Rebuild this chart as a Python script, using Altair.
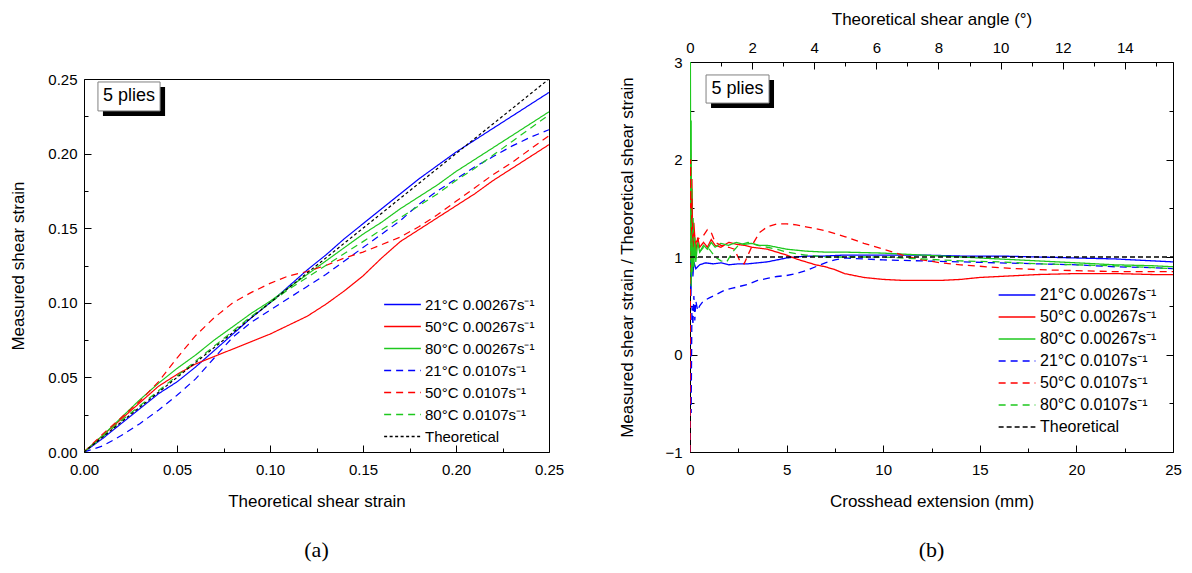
import altair as alt
import pandas as pd

SANS = "Liberation Sans"
SERIF = "Liberation Serif"

SERIES = ["21°C 0.00267s⁻¹", "50°C 0.00267s⁻¹", "80°C 0.00267s⁻¹",
          "21°C 0.0107s⁻¹", "50°C 0.0107s⁻¹", "80°C 0.0107s⁻¹", "Theoretical"]
SERIES_COLORS = ["#0000ff", "#ff0000", "#1ec81e", "#0000ff", "#ff0000", "#1ec81e", "#000000"]

# ---------------- panel (a): measured vs theoretical shear strain ----------------
strain_x = [0.00, 0.01, 0.02, 0.03, 0.04, 0.05, 0.06, 0.07, 0.08, 0.09, 0.10, 0.11, 0.12,
            0.13, 0.14, 0.15, 0.16, 0.17, 0.18, 0.19, 0.20, 0.21, 0.22, 0.23, 0.24, 0.25]
a_21_slow = [0, .009, .019, .029, .039, .047, .057, .068, .079, .090, .100, .111, .122,
             .132, .143, .153, .163, .173, .183, .192, .201, .209, .217, .225, .233, .241]
a_50_slow = [0, .011, .022, .033, .044, .052, .059, .064, .069, .074, .079, .085, .091,
             .099, .108, .118, .130, .141, .149, .157, .165, .173, .182, .190, .198, .206]
a_80_slow = [0, .011, .023, .035, .046, .056, .065, .075, .084, .093, .101, .110, .119,
             .128, .137, .146, .154, .163, .171, .179, .188, .196, .204, .212, .220, .228]
a_21_fast = [0, .004, .011, .019, .028, .038, .049, .063, .077, .087, .095, .103, .111,
             .119, .128, .137, .146, .155, .166, .175, .183, .191, .198, .205, .211, .216]
a_50_fast = [0, .012, .023, .034, .047, .063, .078, .090, .100, .107, .113, .118, .121,
             .125, .130, .134, .139, .144, .151, .159, .168, .177, .186, .194, .203, .212]
a_80_fast = [0, .010, .021, .031, .041, .051, .061, .071, .081, .091, .100, .109, .117,
             .125, .133, .141, .149, .157, .165, .173, .182, .190, .199, .208, .217, .226]
a_theory_x = [0.0, 0.25]
a_theory_y = [0.0, 0.25]
a_label_vals = [0.00, 0.05, 0.10, 0.15, 0.20, 0.25]
a_tick_vals = [0.000, 0.025, 0.050, 0.075, 0.100, 0.125, 0.150, 0.175, 0.200, 0.225, 0.250]

# ---------------- panel (b): ratio vs crosshead extension ----------------
b_21_slow_x = [0, 0.05, 0.1, 0.15, 0.2, 0.3, 0.5, 0.8, 1.2, 1.6, 2.0, 2.5, 3.0, 3.5, 4.0, 4.5,
               5.0, 5.5, 6, 7, 8, 10, 12, 14, 16, 18, 20, 22, 24, 25]
b_21_slow_y = [1.0, 0.6, 1.2, 0.8, 0.95, 0.88, 0.92, 0.94, 0.93, 0.94, 0.92, 0.93, 0.93, 0.94,
               0.95, 0.97, 0.99, 1.0, 1.01, 1.01, 1.02, 1.02, 1.02, 1.01, 1.01, 1.0, 0.99, 0.98,
               0.96, 0.95]
b_50_slow_x = [0, 0.03, 0.06, 0.1, 0.15, 0.2, 0.3, 0.4, 0.5, 0.7, 0.9, 1.1, 1.3, 1.6, 2.0, 2.4,
               2.8, 3.2, 3.6, 4.0, 4.5, 5.0, 5.5, 6.0, 6.5, 7.0, 7.5, 8.0, 9, 10, 11, 12, 13, 14,
               15, 16, 18, 20, 22, 24, 25]
b_50_slow_y = [1.0, 2.1, 1.3, 1.8, 1.0, 1.35, 1.05, 1.2, 1.1, 1.15, 1.1, 1.18, 1.12, 1.1, 1.15,
               1.13, 1.12, 1.1, 1.09, 1.08, 1.05, 1.02, 0.98, 0.95, 0.92, 0.9, 0.87, 0.83, 0.79,
               0.77, 0.76, 0.76, 0.76, 0.77, 0.79, 0.8, 0.82, 0.83, 0.83, 0.82, 0.82]
b_80_slow_x = [0, 0.02, 0.04, 0.06, 0.08, 0.1, 0.13, 0.16, 0.2, 0.25, 0.3, 0.4, 0.5, 0.7, 0.9,
               1.1, 1.3, 1.6, 2.0, 2.4, 2.8, 3.2, 3.6, 4.0, 4.5, 5.0, 6, 7, 8, 10, 12, 14, 16, 18,
               20, 22, 24, 25]
b_80_slow_y = [1.0, 3.0, 1.2, 2.4, 0.8, 1.7, 0.85, 1.4, 0.9, 1.2, 0.95, 1.15, 1.05, 1.12, 1.08,
               1.15, 1.1, 1.14, 1.12, 1.15, 1.13, 1.14, 1.12, 1.12, 1.1, 1.08, 1.06, 1.05, 1.05,
               1.04, 1.02, 1.0, 0.98, 0.96, 0.94, 0.92, 0.91, 0.9]
b_21_fast_x = [0, 0.03, 0.06, 0.1, 0.15, 0.2, 0.25, 0.3, 0.4, 0.5, 0.7, 1.0, 1.4, 1.8, 2.2, 2.6,
               3.0, 3.5, 4.0, 4.5, 5.0, 5.5, 6.0, 6.5, 7.0, 7.5, 8.0, 9, 10, 12, 14, 16, 18, 20,
               22, 24, 25]
b_21_fast_y = [-1.0, 0.2, -0.6, 0.5, 0.3, 0.6, 0.35, 0.55, 0.45, 0.5, 0.55, 0.58, 0.62, 0.66,
               0.68, 0.7, 0.72, 0.76, 0.78, 0.8, 0.81, 0.83, 0.86, 0.9, 0.94, 0.97, 0.99, 0.98,
               0.97, 0.96, 0.95, 0.94, 0.93, 0.92, 0.9, 0.89, 0.88]
b_50_fast_x = [0, 0.03, 0.06, 0.1, 0.15, 0.2, 0.3, 0.5, 0.7, 0.9, 1.1, 1.3, 1.6, 2.0, 2.3, 2.6,
               2.8, 3.0, 3.3, 3.6, 4.0, 4.5, 5.0, 5.5, 6.0, 7.0, 8.0, 9.0, 10, 11, 12, 13, 14, 16,
               18, 20, 22, 24, 25]
b_50_fast_y = [-1.0, 2.0, 0.9, 1.6, 1.1, 1.25, 1.15, 1.2, 1.22, 1.28, 1.25, 1.15, 1.12, 1.1,
               1.08, 0.95, 0.93, 1.02, 1.15, 1.25, 1.31, 1.34, 1.34, 1.33, 1.31, 1.27, 1.21,
               1.14, 1.08, 1.02, 0.97, 0.94, 0.92, 0.89, 0.87, 0.86, 0.85, 0.85, 0.85]
b_80_fast_x = [0, 0.03, 0.06, 0.1, 0.15, 0.2, 0.3, 0.5, 0.7, 1.0, 1.3, 1.6, 1.9, 2.2, 2.5, 3.0,
               3.5, 4.0, 4.5, 5.0, 6.0, 7.0, 8.0, 10, 12, 14, 16, 18, 20, 22, 24, 25]
b_80_fast_y = [1.0, 1.5, 0.7, 1.2, 0.9, 1.1, 1.0, 1.05, 1.1, 1.08, 1.0, 0.96, 0.95, 1.05, 1.12,
               1.15, 1.12, 1.1, 1.08, 1.05, 1.02, 1.0, 1.0, 1.0, 0.98, 0.96, 0.95, 0.93, 0.92,
               0.91, 0.89, 0.88]
b_theory_x = [0, 25]
b_theory_y = [1, 1]
b_x_label_vals = [0, 5, 10, 15, 20, 25]
b_x_tick_vals = [0, 2.5, 5, 7.5, 10, 12.5, 15, 17.5, 20, 22.5, 25]
b_y_label_vals = [-1, 0, 1, 2, 3]
b_y_tick_vals = [-1, -0.5, 0, 0.5, 1, 1.5, 2, 2.5, 3]
angle_label_vals = [0, 2, 4, 6, 8, 10, 12, 14]
angle_tick_vals = [0, 1, 2, 3, 4, 5, 6, 7, 8, 9, 10, 11, 12, 13, 14, 15]
ANGLE_MAX = 15.55

# "5 plies" annotation boxes (data coordinates)
A_BOX = [0.0075, 0.0409, 0.2286, 0.248]
B_BOX = [0.83, 4.09, 2.579, 2.867]
PLIES = "5 plies"

W_A, H_A = 465, 373
W_B, H_B = 483, 390


def long_frame(xname, yname, groups):
    rows = []
    for name, xs, ys in groups:
        for xv, yv in zip(xs, ys):
            rows.append({xname: xv, yname: yv, "series": name})
    return pd.DataFrame(rows)


df_a = long_frame("gx", "gy", [
    (SERIES[0], strain_x, a_21_slow), (SERIES[1], strain_x, a_50_slow),
    (SERIES[2], strain_x, a_80_slow), (SERIES[3], strain_x, a_21_fast),
    (SERIES[4], strain_x, a_50_fast), (SERIES[5], strain_x, a_80_fast),
    (SERIES[6], a_theory_x, a_theory_y)])
df_b = long_frame("mm", "ratio", [
    (SERIES[0], b_21_slow_x, b_21_slow_y), (SERIES[1], b_50_slow_x, b_50_slow_y),
    (SERIES[2], b_80_slow_x, b_80_slow_y), (SERIES[3], b_21_fast_x, b_21_fast_y),
    (SERIES[4], b_50_fast_x, b_50_fast_y), (SERIES[5], b_80_fast_x, b_80_fast_y),
    (SERIES[6], b_theory_x, b_theory_y)])
theory_a = pd.DataFrame({"gx": a_theory_x, "gy": a_theory_y})
theory_b = pd.DataFrame({"mm": b_theory_x, "ratio": b_theory_y})
angle_df = pd.DataFrame({"angle": angle_tick_vals, "ratio": [b_theory_y[0]] * len(angle_tick_vals)})
box_a = pd.DataFrame({"x1": [A_BOX[0]], "x2": [A_BOX[1]], "y1": [A_BOX[2]], "y2": [A_BOX[3]],
                      "tx": [(A_BOX[0] + A_BOX[1]) / 2], "ty": [(A_BOX[2] + A_BOX[3]) / 2],
                      "label": [PLIES]})
box_b = pd.DataFrame({"x1": [B_BOX[0]], "x2": [B_BOX[1]], "y1": [B_BOX[2]], "y2": [B_BOX[3]],
                      "tx": [(B_BOX[0] + B_BOX[1]) / 2], "ty": [(B_BOX[2] + B_BOX[3]) / 2],
                      "label": [PLIES]})


def tick_size(step):
    return {"condition": {"test": f"abs(datum.value / {step} - round(datum.value / {step})) > 0.01",
                          "value": 4}, "value": 7}


def legend(x, y, size, sw=None):
    kw = dict(title=None, orient="none", legendX=x, legendY=y, symbolType="M-3,0H3",
              symbolSize=150, labelFont=SANS, labelFontSize=size, labelColor="black",
              labelOffset=15, rowPadding=6, padding=0, labelLimit=400)
    if sw is not None:
        kw["symbolStrokeWidth"] = sw
    return alt.Legend(**kw)


def annotations(df, xs, ys):
    base = alt.Chart(df)
    enc = dict(x=alt.X("x1:Q", scale=xs, axis=None), x2="x2:Q",
               y=alt.Y("y1:Q", scale=ys, axis=None), y2="y2:Q")
    shadow = base.mark_rect(color="black", xOffset=5, x2Offset=5, yOffset=5, y2Offset=5).encode(**enc)
    box = base.mark_rect(fill="white", stroke="#808080", strokeWidth=1).encode(**enc)
    txt = base.mark_text(font=SANS, fontSize=18, color="black", align="center",
                         baseline="middle").encode(
        x=alt.X("tx:Q", scale=xs, axis=None), y=alt.Y("ty:Q", scale=ys, axis=None), text="label:N")
    return [shadow, box, txt]


# ---------------- build panel (a) ----------------
xa = alt.Scale(domain=[0, 0.25], nice=False, zero=False)
ya = alt.Scale(domain=[0, 0.25], nice=False, zero=False)
leg_a = legend(311, 235, 15, 1.3)
lines_a = alt.Chart(df_a).mark_line(clip=True, strokeWidth=1.2).encode(
    x=alt.X("gx:Q", scale=xa, axis=alt.Axis(
        title="Theoretical shear strain", orient="bottom", values=a_label_vals, format=".2f",
        ticks=False, tickSize=0, labelPadding=10, titlePadding=16, labelFlush=False)),
    y=alt.Y("gy:Q", scale=ya, axis=alt.Axis(
        title="Measured shear strain", orient="left", values=a_label_vals, format=".2f",
        ticks=False, tickSize=0, labelPadding=7, titlePadding=20)),
    color=alt.Color("series:N", scale=alt.Scale(domain=SERIES, range=SERIES_COLORS), legend=leg_a),
    strokeDash=alt.StrokeDash("series:N", scale=alt.Scale(
        domain=SERIES, range=[[1, 0], [1, 0], [1, 0], [7, 5], [7, 5], [7, 5], [3, 2.5]]), legend=leg_a),
)
ticks_a = alt.Chart(theory_a).mark_point(opacity=0).encode(
    x=alt.X("gx:Q", scale=xa, axis=alt.Axis(orient="top", offset=-H_A, labels=False, title=None,
                                            values=a_tick_vals, tickSize=tick_size(0.05))),
    y=alt.Y("gy:Q", scale=ya, axis=alt.Axis(orient="right", offset=-W_A, labels=False, title=None,
                                            values=a_tick_vals, tickSize=tick_size(0.05))),
)
panel_a = alt.layer(lines_a, ticks_a, *annotations(box_a, xa, ya)).resolve_axis(
    x="independent", y="independent").properties(
    width=W_A, height=H_A,
    title=alt.TitleParams("(a)", orient="bottom", font=SERIF, fontSize=22, fontWeight="normal",
                          color="black", offset=31, anchor="middle"))
spacer_a = alt.Chart(theory_a).mark_point(opacity=0).encode(
    x=alt.X("gx:Q", scale=xa, axis=None), y=alt.Y("gy:Q", scale=ya, axis=None)).properties(
    width=W_A, height=1, view=alt.ViewBackground(strokeOpacity=0))
column_a = alt.vconcat(spacer_a, panel_a, spacing=5)

# ---------------- build panel (b) ----------------
xb = alt.Scale(domain=[0, 25], nice=False, zero=False)
yb = alt.Scale(domain=[-1, 3], nice=False, zero=False)
xang = alt.Scale(domain=[0, ANGLE_MAX], nice=False, zero=False)
leg_b = legend(319, 225, 16)
lines_b = alt.Chart(df_b).mark_line(clip=True).encode(
    x=alt.X("mm:Q", scale=xb, axis=alt.Axis(
        title="Crosshead extension (mm)", orient="bottom", values=b_x_label_vals, format="d",
        ticks=False, tickSize=0, labelPadding=10, titlePadding=16, labelFlush=False)),
    y=alt.Y("ratio:Q", scale=yb, axis=alt.Axis(
        title="Measured shear strain / Theoretical shear strain", orient="left",
        values=b_y_label_vals, format="d", ticks=False, tickSize=0, labelPadding=8,
        titlePadding=28)),
    color=alt.Color("series:N", scale=alt.Scale(domain=SERIES, range=SERIES_COLORS), legend=leg_b),
    strokeDash=alt.StrokeDash("series:N", scale=alt.Scale(
        domain=SERIES, range=[[1, 0], [1, 0], [1, 0], [7, 5], [7, 5], [7, 5], [5, 3]]), legend=leg_b),
    strokeWidth=alt.StrokeWidth("series:N", scale=alt.Scale(
        domain=SERIES, range=[1.3, 1.3, 1.3, 1.3, 1.3, 1.3, 2.2]), legend=leg_b),
)
ticks_b1 = alt.Chart(theory_b).mark_point(opacity=0).encode(
    x=alt.X("mm:Q", scale=xb, axis=alt.Axis(orient="top", offset=-H_B, labels=False, title=None,
                                            values=b_x_tick_vals, tickSize=tick_size(5))),
    y=alt.Y("ratio:Q", scale=yb, axis=alt.Axis(orient="right", offset=-W_B, labels=False, title=None,
                                               values=b_y_tick_vals, tickSize=tick_size(1))),
)
ticks_b2 = alt.Chart(theory_b).mark_point(opacity=0).encode(
    x=alt.X("mm:Q", scale=xb, axis=None),
    y=alt.Y("ratio:Q", scale=yb, axis=alt.Axis(orient="left", offset=-W_B, labels=False, title=None,
                                               values=b_y_tick_vals, tickSize=tick_size(1))),
)
angle_labels = alt.Chart(angle_df).mark_point(opacity=0).encode(
    x=alt.X("angle:Q", scale=xang, axis=alt.Axis(
        orient="top", title="Theoretical shear angle (°)", values=angle_label_vals, format="d",
        ticks=False, tickSize=0, labelPadding=7, titlePadding=12, labelFlush=False)),
    y=alt.Y("ratio:Q", scale=yb, axis=None))
angle_ticks = alt.Chart(angle_df).mark_point(opacity=0).encode(
    x=alt.X("angle:Q", scale=xang, axis=alt.Axis(orient="bottom", offset=-H_B, labels=False,
                                                 title=None, values=angle_tick_vals,
                                                 tickSize=tick_size(2))),
    y=alt.Y("ratio:Q", scale=yb, axis=None))
panel_b = alt.layer(lines_b, ticks_b1, ticks_b2, angle_labels, angle_ticks,
                    *annotations(box_b, xb, yb)).resolve_scale(x="independent").resolve_axis(
    x="independent", y="independent").properties(
    width=W_B, height=H_B,
    title=alt.TitleParams("(b)", orient="bottom", font=SERIF, fontSize=22, fontWeight="normal",
                          color="black", offset=31, anchor="middle"))

chart = alt.hconcat(column_a, panel_b, spacing=53).resolve_scale(
    color="independent", strokeDash="independent", strokeWidth="independent").resolve_legend(
    color="independent", strokeDash="independent", strokeWidth="independent").properties(
    padding={"left": 1, "top": 1, "right": 0, "bottom": 0}, background="white"
).configure_view(stroke="black", strokeWidth=1).configure_axis(
    labelFont=SANS, titleFont=SANS, labelFontSize=15, titleFontSize=17, titleFontWeight="normal",
    labelColor="black", titleColor="black", tickColor="black", tickWidth=1, grid=False, domain=False)

chart.save("out.html", embed_options={"renderer": "svg", "actions": False})
